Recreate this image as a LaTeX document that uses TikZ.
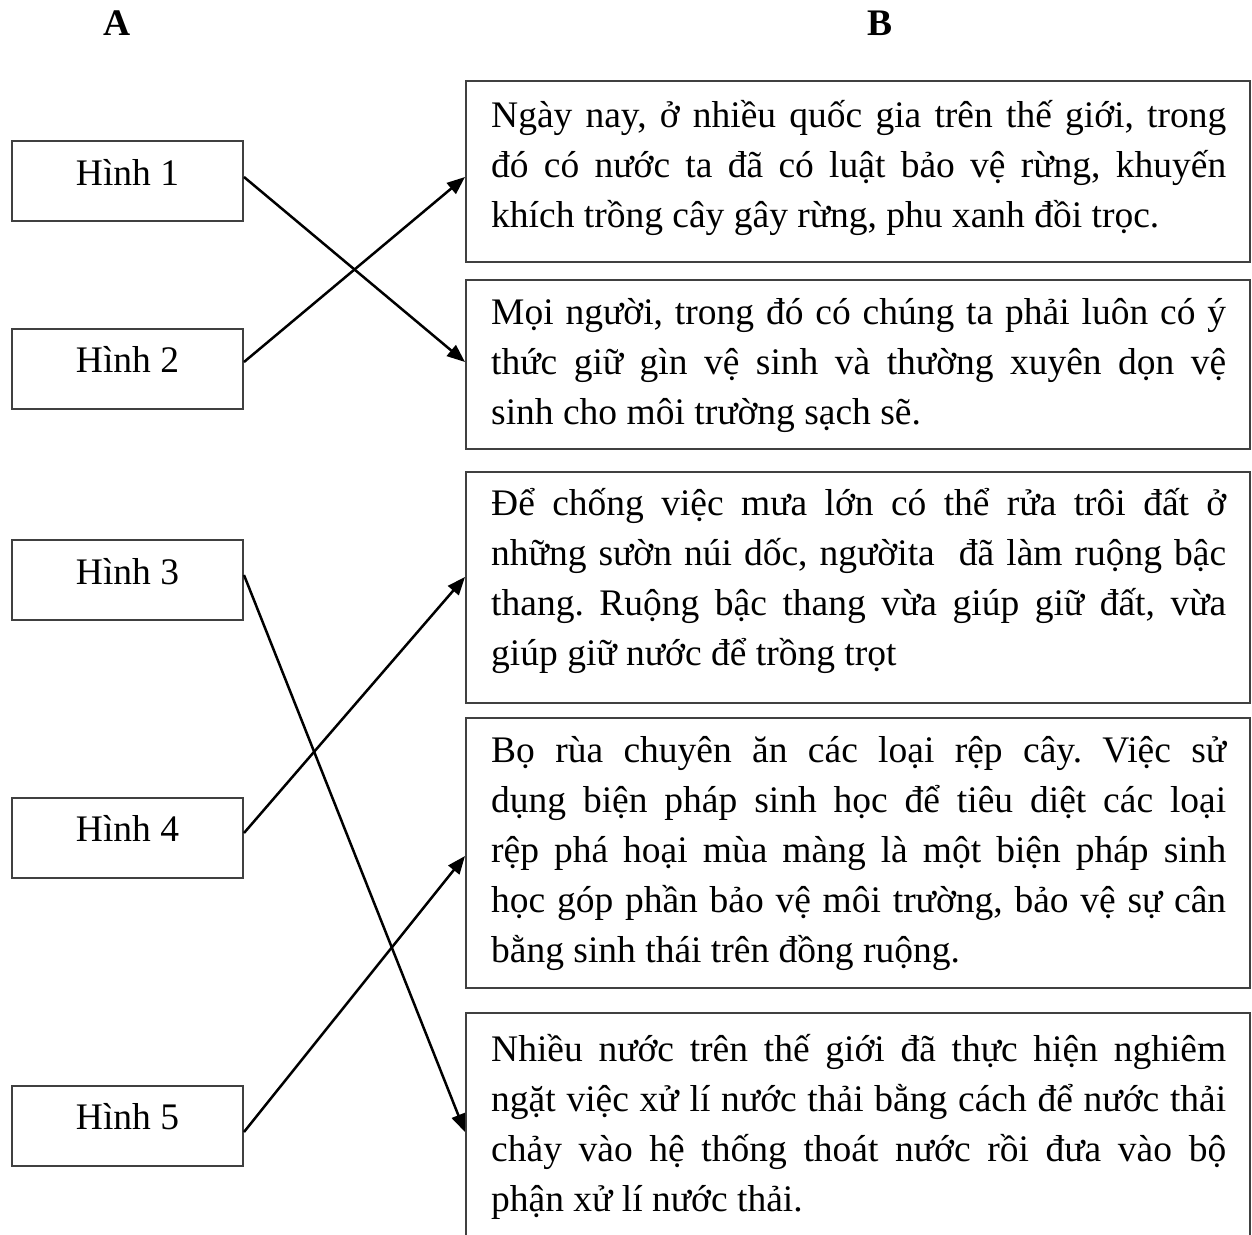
\documentclass[tikz,border=0pt]{standalone}
\usepackage{fontspec}
\setmainfont{Liberation Serif}
\usetikzlibrary{arrows.meta,calc}
\definecolor{bordergray}{HTML}{404040}
\frenchspacing
\begin{document}
\begin{tikzpicture}[x=1pt,y=-1pt,
  bigfont/.style={font=\fontsize{37.5}{50}\selectfont},
  hdr/.style={bigfont, font=\fontsize{37.5}{50}\selectfont\bfseries, anchor=base, inner sep=0},
  lbox/.style={draw=bordergray, line width=2pt, minimum width=231pt, minimum height=80pt,
    inner sep=0, bigfont, text height=26pt, text depth=18pt},
  rbox/.style={draw=bordergray, line width=2pt, minimum width=784pt, inner sep=0},
  txt/.style={bigfont, anchor=base west, inner sep=0},
  arr/.style={line width=2.5pt, -{Triangle[length=18pt,width=14pt]}}]
\useasboundingbox (0,0) rectangle (1252,1234);
\fill[white] (0,0) rectangle (1252,1234);
\newcommand{\boxtext}[1]{\begin{minipage}[t]{735pt}\frenchspacing\tolerance=9999\hbadness=10000\parindent=0pt #1\end{minipage}}

% headers
\node[hdr] (ha) at (117,35) {A};
\node[hdr] (hb) at (880,35) {B};

% left boxes
\node[lbox] (h1) at (127.5,181) {Hình 1};
\node[lbox] (h2) at (127.5,368.5) {Hình 2};
\node[lbox] (h3) at (127.5,580) {Hình 3};
\node[lbox] (h4) at (127.5,837.5) {Hình 4};
\node[lbox] (h5) at (127.5,1125.5) {Hình 5};

% right boxes
\node[rbox, minimum height=181pt] (b1) at (858,171.5) {};
\node[rbox, minimum height=169pt] (b2) at (858,364.5) {};
\node[rbox, minimum height=231pt] (b3) at (858,587) {};
\node[rbox, minimum height=270pt] (b4) at (858,853) {};
\node[rbox, minimum height=238pt] (b5) at (858,1132) {};

% texts
\node[txt] (t1) at (491,127) {\boxtext{Ngày nay, ở nhiều quốc gia trên thế giới, trong\linebreak
đó có nước ta đã có luật bảo vệ rừng, khuyến\linebreak
khích trồng cây gây rừng, phu xanh đồi trọc.}};
\node[txt] (t2) at (491,324) {\boxtext{Mọi người, trong đó có chúng ta phải luôn có ý\linebreak
thức giữ gìn vệ sinh và thường xuyên dọn vệ\linebreak
sinh cho môi trường sạch sẽ.}};
\node[txt] (t3) at (491,515) {\boxtext{Để chống việc mưa lớn có thể rửa trôi đất ở\linebreak
những sườn núi dốc, ngườita\ \ đã làm ruộng bậc\linebreak
thang. Ruộng bậc thang vừa giúp giữ đất, vừa\linebreak
giúp giữ nước để trồng trọt}};
\node[txt] (t4) at (491,762) {\boxtext{Bọ rùa chuyên ăn các loại rệp cây. Việc sử\linebreak
dụng biện pháp sinh học để tiêu diệt các loại\linebreak
rệp phá hoại mùa màng là một biện pháp sinh\linebreak
học góp phần bảo vệ môi trường, bảo vệ sự cân\linebreak
bằng sinh thái trên đồng ruộng.}};
\node[txt] (t5) at (491,1061) {\boxtext{Nhiều nước trên thế giới đã thực hiện nghiêm\linebreak
ngặt việc xử lí nước thải bằng cách để nước thải\linebreak
chảy vào hệ thống thoát nước rồi đưa vào bộ\linebreak
phận xử lí nước thải.}};

% connectors
\draw[arr] ([yshift=4pt]h1.east) -- ([yshift=2.5pt]b2.west);
\draw[arr] ([yshift=6.5pt]h2.east) -- ([yshift=-5.5pt]b1.west);
\draw[arr] ([yshift=5pt]h3.east) -- (b5.west);
\draw[arr] ([yshift=4.5pt]h4.east) -- ([yshift=10pt]b3.west);
\draw[arr] ([yshift=-6.5pt]h5.east) -- ([yshift=-3pt]b4.west);
\end{tikzpicture}
\end{document}
